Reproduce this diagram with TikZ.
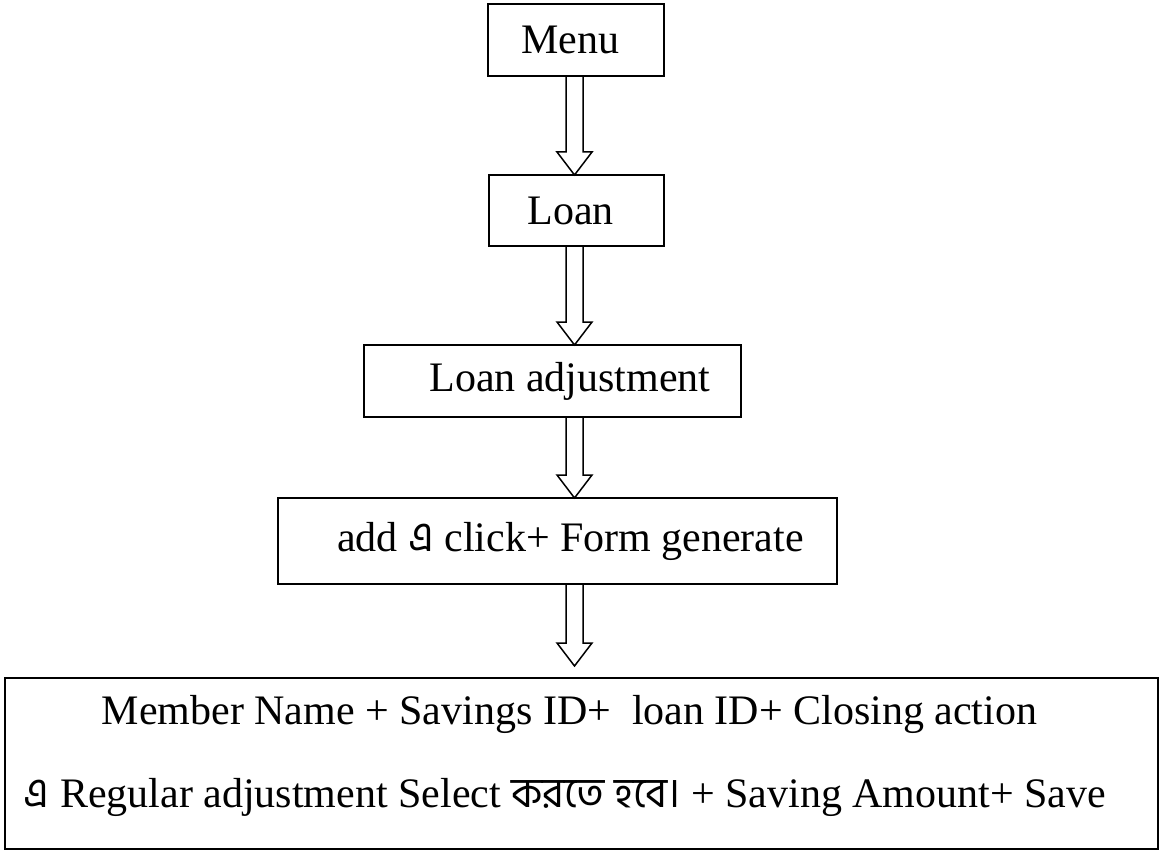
\documentclass[tikz,border=0pt]{standalone}
\usepackage{fontspec}
\setmainfont{Liberation Serif}
\newfontfamily\bangla[Script=Bengali]{Hind Siliguri}
\usepackage{tikz}
\usetikzlibrary{calc}
\usetikzlibrary{positioning}

\newcommand{\hollowarrow}[2]{%
  \draw[arrowline] let \p1=(#1), \p2=(#2) in
    (\x2-8.5pt,\y1) -- (\x2-8.5pt,\y2+23pt) -- (\x2-17.5pt,\y2+23pt) -- (\x2,\y2)
    -- (\x2+17.5pt,\y2+23pt) -- (\x2+8.5pt,\y2+23pt) -- (\x2+8.5pt,\y1);}

\begin{document}
\begin{tikzpicture}[x=1pt,y=-1pt]
      \tikzstyle{every node}=[font=\fontsize{42}{50}\selectfont]
      \tikzstyle{box}=[draw,line width=1.5pt,inner sep=0pt]
      \tikzstyle{arrowline}=[line width=1.5pt,line join=miter]
      \useasboundingbox (0,0) rectangle (1161,850);

      \node[box,minimum width=176pt,minimum height=72pt] (menu)   at (576,40)    {Menu\hspace*{12pt}};
      \node[box,minimum width=175pt,minimum height=71pt] (loan)   at (576.5,210.5) {Loan\hspace*{12pt}};
      \node[box,minimum width=377pt,minimum height=72pt] (adjust) at (552.5,381) {\hspace*{35pt}Loan adjustment};
      \node[box,minimum width=559pt,minimum height=86pt] (form)   at (557.5,541) {\hspace*{26pt}add {\bangla এ} click+ Form generate};
      \node[box,minimum width=1153pt,minimum height=171pt,align=center,
            font=\fontsize{42}{83}\selectfont] (member) at (581.5,763.5)
            {Member Name + Savings ID+ \ loan ID+ Closing action\hspace*{24pt}\\
             {\bangla এ} Regular adjustment Select {\bangla করতে হবে।} + Saving Amount+ Save\hspace*{33pt}\rule[-25pt]{0pt}{25pt}};

      \coordinate (t1) at (574.5,175);
      \coordinate (t2) at (574.5,345);
      \coordinate (t3) at (574.5,498);
      \coordinate (t4) at (574.5,666);

      \hollowarrow{menu.south}{t1}
      \hollowarrow{loan.south}{t2}
      \hollowarrow{adjust.south}{t3}
      \hollowarrow{form.south}{t4}
\end{tikzpicture}
\end{document}
